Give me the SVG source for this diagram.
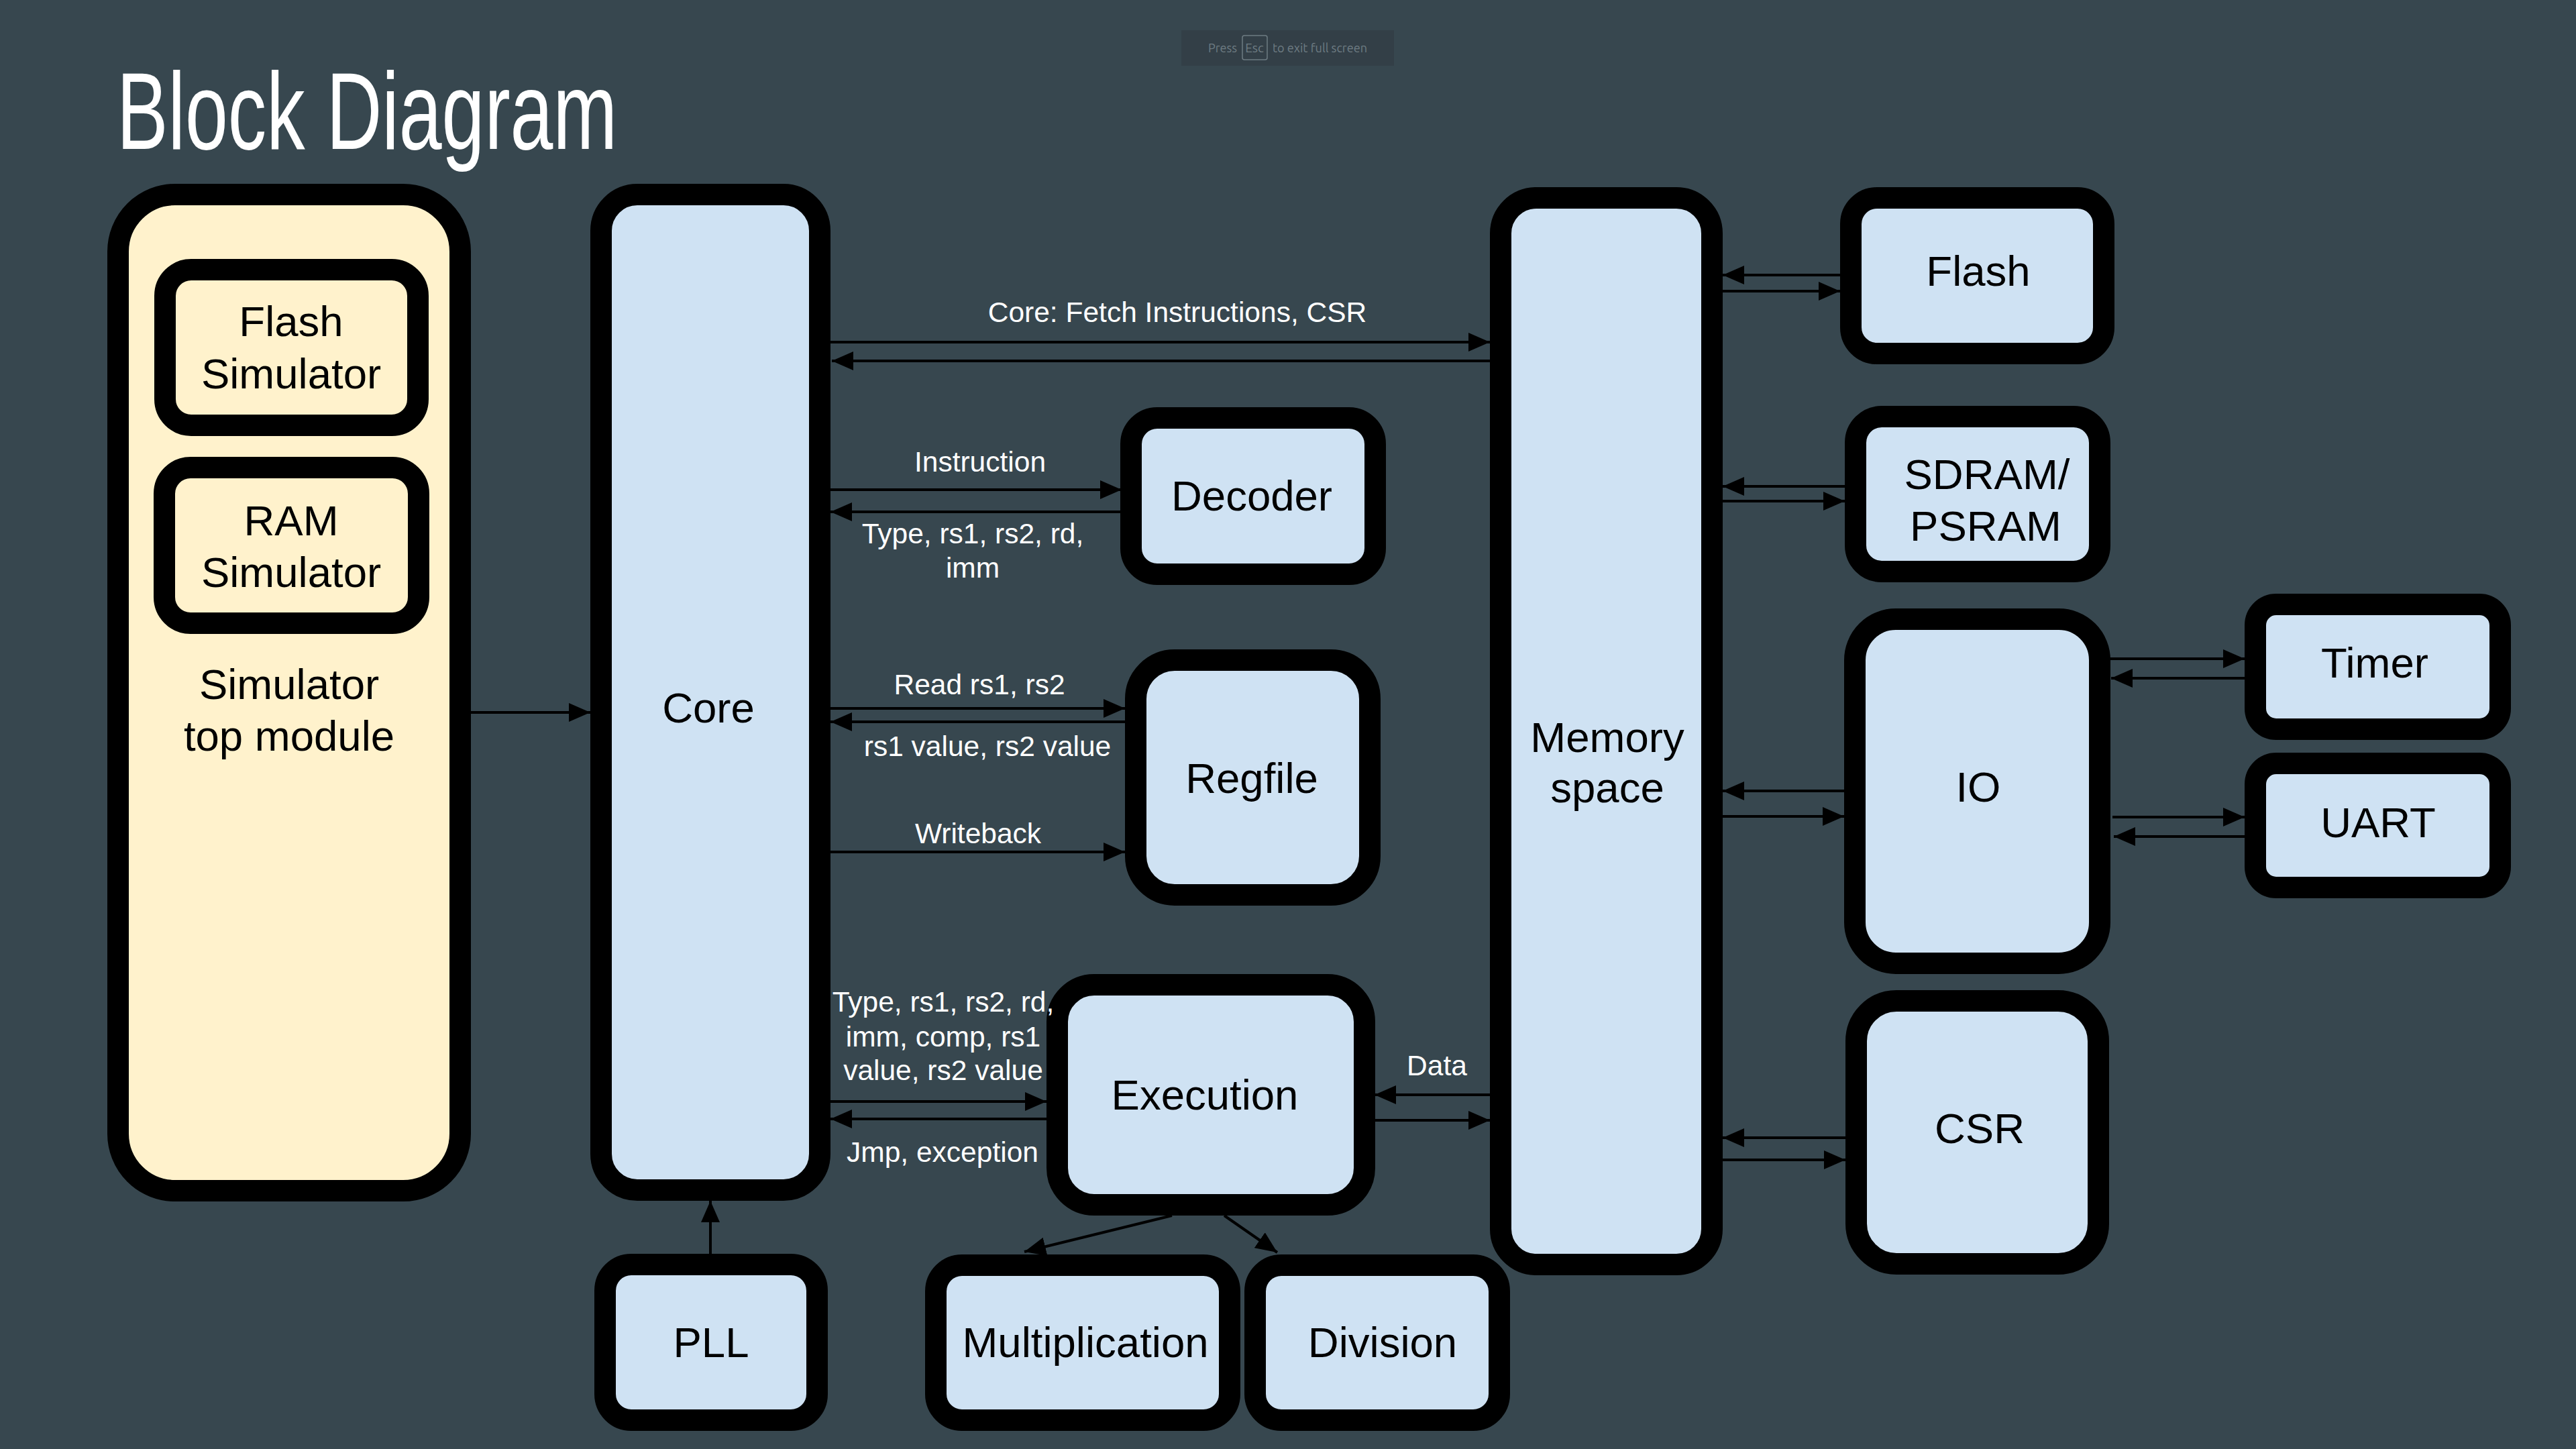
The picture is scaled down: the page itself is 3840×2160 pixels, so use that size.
<svg xmlns="http://www.w3.org/2000/svg" width="3840" height="2160" viewBox="0 0 3840 2160">
<defs>
<style>
.box{stroke:#000;stroke-width:32;fill:#CFE2F3}
.sim{stroke:#000;stroke-width:32;fill:#FFF2CC}
.lbl{font-family:"Liberation Sans",Arial,sans-serif;font-size:63.5px;fill:#000;text-anchor:middle}
.cl{font-family:"Liberation Sans",Arial,sans-serif;font-size:42.5px;fill:#fff;text-anchor:middle}
.ln{stroke:#000;stroke-width:4;fill:none;marker-end:url(#ah)}
</style>
<marker id="ah" markerUnits="userSpaceOnUse" markerWidth="34" markerHeight="28" refX="32" refY="14" orient="auto">
<path d="M0,0 L32,14 L0,28 z" fill="#000"/>
</marker>
</defs>
<rect x="0" y="0" width="3840" height="2160" fill="#37474F"/>
<g id="fullscreen-hint">
<rect x="1761" y="45" width="317" height="53" fill="#333F47"/>
<rect x="1852" y="53" width="37" height="36" rx="3" fill="none" stroke="#6E7C83" stroke-width="1.5"/>
<text x="1801" y="78" font-family="Ubuntu,'Noto Sans',sans-serif" font-size="19" fill="#6E7C83" textLength="43" lengthAdjust="spacingAndGlyphs">Press</text>
<text x="1870" y="78" font-family="Ubuntu,'Noto Sans',sans-serif" font-size="19" fill="#6E7C83" text-anchor="middle">Esc</text>
<text x="1897" y="78" font-family="Ubuntu,'Noto Sans',sans-serif" font-size="19" fill="#6E7C83" textLength="141" lengthAdjust="spacingAndGlyphs">to exit full screen</text>
</g>
<text id="title" x="174" y="222" font-family="'Liberation Sans',Arial,sans-serif" font-size="163" fill="#fff" textLength="746" lengthAdjust="spacingAndGlyphs">Block Diagram</text>

<g id="sim-top">
<rect class="sim" x="176" y="290" width="510" height="1485" rx="85"/>
<text class="lbl" x="431" y="1042">Simulator</text>
<text class="lbl" x="431" y="1119">top module</text>
</g>
<g id="flash-sim">
<rect class="sim" x="246" y="402" width="377" height="232" rx="39"/>
<text class="lbl" x="434" y="501">Flash</text>
<text class="lbl" x="434" y="579">Simulator</text>
</g>
<g id="ram-sim">
<rect class="sim" x="245" y="697" width="379" height="232" rx="39"/>
<text class="lbl" x="434" y="798">RAM</text>
<text class="lbl" x="434" y="875">Simulator</text>
</g>
<g id="core">
<rect class="box" x="896" y="290" width="326" height="1484" rx="54"/>
<text class="lbl" x="1056" y="1077">Core</text>
</g>
<g id="pll">
<rect class="box" x="902" y="1885" width="316" height="232" rx="39"/>
<text class="lbl" x="1060" y="2023">PLL</text>
</g>
<g id="decoder">
<rect class="box" x="1686" y="623" width="364" height="233" rx="39"/>
<text class="lbl" x="1866" y="761">Decoder</text>
</g>
<g id="regfile">
<rect class="box" x="1693" y="984" width="349" height="350" rx="58"/>
<text class="lbl" x="1866" y="1182">Regfile</text>
</g>
<g id="execution">
<rect class="box" x="1576" y="1468" width="458" height="328" rx="55"/>
<text class="lbl" x="1796" y="1654">Execution</text>
</g>
<g id="multiplication">
<rect class="box" x="1395" y="1886" width="438" height="231" rx="39"/>
<text class="lbl" x="1618" y="2023">Multiplication</text>
</g>
<g id="division">
<rect class="box" x="1871" y="1886" width="364" height="231" rx="39"/>
<text class="lbl" x="2061" y="2023">Division</text>
</g>
<g id="memory">
<rect class="box" x="2237" y="295" width="315" height="1590" rx="53"/>
<text class="lbl" x="2396" y="1121">Memory</text>
<text class="lbl" x="2396" y="1196">space</text>
</g>
<g id="flash">
<rect class="box" x="2759" y="295" width="377" height="232" rx="39"/>
<text class="lbl" x="2949" y="426">Flash</text>
</g>
<g id="sdram">
<rect class="box" x="2766" y="621" width="364" height="231" rx="39"/>
<text class="lbl" x="2962" y="729">SDRAM/</text>
<text class="lbl" x="2960" y="806">PSRAM</text>
</g>
<g id="io">
<rect class="box" x="2765" y="923" width="365" height="513" rx="61"/>
<text class="lbl" x="2949" y="1195">IO</text>
</g>
<g id="timer">
<rect class="box" x="3362" y="901" width="365" height="186" rx="31"/>
<text class="lbl" x="3540" y="1010">Timer</text>
</g>
<g id="uart">
<rect class="box" x="3362" y="1138" width="365" height="185" rx="31"/>
<text class="lbl" x="3545" y="1248">UART</text>
</g>
<g id="csr">
<rect class="box" x="2767" y="1492" width="361" height="392" rx="60"/>
<text class="lbl" x="2951" y="1704">CSR</text>
</g>

<g id="connectors">
<line class="ln" x1="686" y1="1062" x2="880" y2="1062"/>
<line class="ln" x1="1238" y1="510" x2="2221" y2="510"/>
<line class="ln" x1="2221" y1="538" x2="1240" y2="538"/>
<line class="ln" x1="1238" y1="730" x2="1672" y2="730"/>
<line class="ln" x1="1670" y1="763" x2="1238" y2="763"/>
<line class="ln" x1="1238" y1="1056" x2="1677" y2="1056"/>
<line class="ln" x1="1677" y1="1076" x2="1238" y2="1076"/>
<line class="ln" x1="1238" y1="1270" x2="1677" y2="1270"/>
<line class="ln" x1="1238" y1="1642" x2="1560" y2="1642"/>
<line class="ln" x1="1560" y1="1668" x2="1238" y2="1668"/>
<line class="ln" x1="2221" y1="1632" x2="2049" y2="1632"/>
<line class="ln" x1="2049" y1="1670" x2="2221" y2="1670"/>
<line class="ln" x1="1059" y1="1869" x2="1059" y2="1790"/>
<line class="ln" x1="1747" y1="1812" x2="1527" y2="1866"/>
<line class="ln" x1="1825" y1="1812" x2="1904" y2="1867"/>
<line class="ln" x1="2743" y1="410" x2="2568" y2="410"/>
<line class="ln" x1="2568" y1="434" x2="2743" y2="434"/>
<line class="ln" x1="2750" y1="725" x2="2568" y2="725"/>
<line class="ln" x1="2568" y1="747" x2="2750" y2="747"/>
<line class="ln" x1="2749" y1="1179" x2="2568" y2="1179"/>
<line class="ln" x1="2568" y1="1217" x2="2749" y2="1217"/>
<line class="ln" x1="3145" y1="982" x2="3346" y2="982"/>
<line class="ln" x1="3346" y1="1011" x2="3147" y2="1011"/>
<line class="ln" x1="3149" y1="1218" x2="3346" y2="1218"/>
<line class="ln" x1="3346" y1="1247" x2="3151" y2="1247"/>
<line class="ln" x1="2751" y1="1696" x2="2568" y2="1696"/>
<line class="ln" x1="2568" y1="1729" x2="2751" y2="1729"/>
<text class="cl" x="1755" y="480">Core: Fetch Instructions, CSR</text>
<text class="cl" x="1461" y="703">Instruction</text>
<text class="cl" x="1450" y="810">Type, rs1, rs2, rd,</text>
<text class="cl" x="1450" y="861">imm</text>
<text class="cl" x="1460" y="1035">Read rs1, rs2</text>
<text class="cl" x="1472" y="1127">rs1 value, rs2 value</text>
<text class="cl" x="1458" y="1257">Writeback</text>
<text class="cl" x="1406" y="1508">Type, rs1, rs2, rd,</text>
<text class="cl" x="1406" y="1560">imm, comp, rs1</text>
<text class="cl" x="1406" y="1610">value, rs2 value</text>
<text class="cl" x="1405" y="1732">Jmp, exception</text>
<text class="cl" x="2142" y="1603">Data</text>
</g>
</svg>
